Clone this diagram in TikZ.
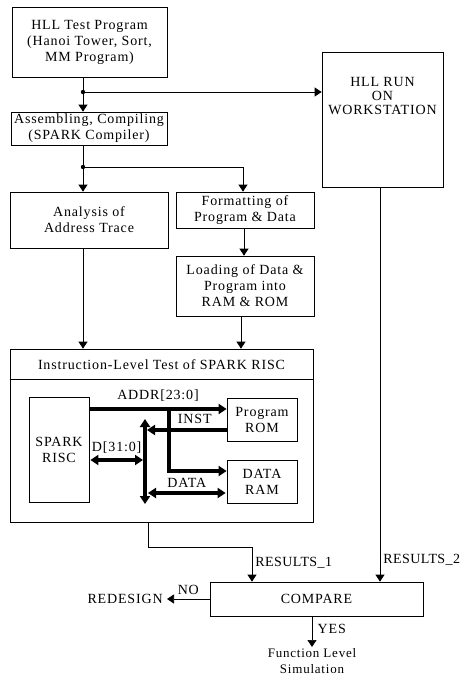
\documentclass[tikz,border=0pt]{standalone}
\usepackage{fontspec}
\setmainfont{Liberation Serif}[LetterSpace=6]
\usetikzlibrary{arrows.meta}

\begin{document}
\begin{tikzpicture}[x=1pt,y=-1pt,>={Triangle[length=7pt,width=9pt]},
  font=\fontsize{14}{16}\selectfont,line width=0.7pt,
  box/.style={draw,align=center,inner sep=0pt},
  res/.style={right=3pt,inner sep=0pt,font=\fontsize{14}{16}\selectfont\addfontfeature{LetterSpace=3}},
  bus/.style={line width=3.2pt,>={Triangle[length=8pt,width=10pt]}}]
\useasboundingbox (0,0) rectangle (465,681);
% flow boxes
\node[box,minimum width=155,minimum height=70](hll)at(89.5,42){HLL Test Program\\(Hanoi Tower, Sort,\\MM Program)};
\node[box,minimum width=156,minimum height=33](asm)at(89,128.5){Assembling, Compiling\\(SPARK Compiler)};
\node[box,minimum width=121,minimum height=135](ws)at(382.5,119.5){};
\node[align=center,font=\fontsize{14}{14}\selectfont](wstxt)at(382.5,96){HLL RUN\\ON\\WORKSTATION};
\node[box,minimum width=158,minimum height=56](trace)at(89,220){Analysis of\\Address Trace};
\node[box,minimum width=138,minimum height=36](fmt)at(245,210){Formatting of\\Program \& Data};
\node[box,minimum width=138,minimum height=60](load)at(245,286){Loading of Data \&\\Program into\\RAM \& ROM};
% instruction level test
\node[box,minimum width=303,minimum height=173](test)at(161.5,435.5){};
\node(hdr)at(161.5,365){Instruction-Level Test of SPARK RISC};
\draw(test.west|-0,379)--(test.east|-0,379);
\node[box,minimum width=60,minimum height=105](risc)at(59,449.5){SPARK\\RISC};
\node[box,minimum width=70,minimum height=43](rom)at(262,419.5){Program\\ROM};
\node[box,minimum width=70,minimum height=43](ram)at(262,481.5){DATA\\RAM};
\coordinate(bt)at(145,419);
\coordinate(bb)at(145,504);
\coordinate(br)at(169,409);
\draw[bus,<->](bt)--(bb);
\draw[bus,->](risc.east|-br)--node[above=3pt]{ADDR[23:0]}(rom.west|-br);
\draw[bus,->](br)|-(ram.west|-0,471);
\draw[bus,->](rom.west|-0,430)--node[above=1pt,pos=0.4]{INST}([xshift=2pt]bt|-0,430);
\draw[bus,<->]([xshift=1pt]risc.east|-0,460)--node[above=2pt]{D[31:0]}([xshift=-2pt]bt|-0,460);
\draw[bus,<->]([xshift=3pt]bt|-0,493)--node[above=1pt]{DATA}([xshift=-1pt]ram.west|-0,493);
% compare
\node[box,minimum width=213,minimum height=34](cmp)at(316.5,599){COMPARE};
\node[anchor=east,inner sep=0pt](redesign)at(163,599){REDESIGN};
\node[align=center,anchor=north,font=\fontsize{13}{16}\selectfont,inner sep=1pt](func)at(312,647){Function Level\\Simulation};
% connectors
\coordinate(j1)at(83,92);
\coordinate(j2)at(83,167);
\draw(j1|-hll.south)--(j1);
\draw[->](j1)--(j1|-asm.north);
\draw[->](j1)--(j1-|ws.west);
\fill(j1)circle(2.2pt);
\draw(j2|-asm.south)--(j2);
\draw[->](j2)--(j2|-trace.north);
\draw[->](j2)-|([xshift=-2pt]fmt.north);
\fill(j2)circle(2.2pt);
\draw[->]([xshift=-1pt]fmt.south)--([xshift=-1pt]load.north);
\draw[->](j2|-trace.south)--(j2|-test.north);
\draw[->]([xshift=-4pt]load.south)--([xshift=-4pt]load.south|-test.north);
\coordinate(r1a)at(148,547);
\coordinate(r1b)at(252,547);
\draw[->](r1a|-test.south)--(r1a)--(r1b)--node[res,pos=0.45]{RESULTS\_1}(r1b|-cmp.north);
\draw[->]([xshift=-2.5pt]ws.south)--node[res,pos=0.945]{RESULTS\_2}([xshift=-2.5pt]ws.south|-cmp.north);
\draw[->](cmp.west)--node[above=1pt]{NO}([xshift=4pt]redesign.east);
\draw[->](cmp.south-|func)--node[right=2pt,pos=0.4]{YES}(func.north);
\end{tikzpicture}
\end{document}
